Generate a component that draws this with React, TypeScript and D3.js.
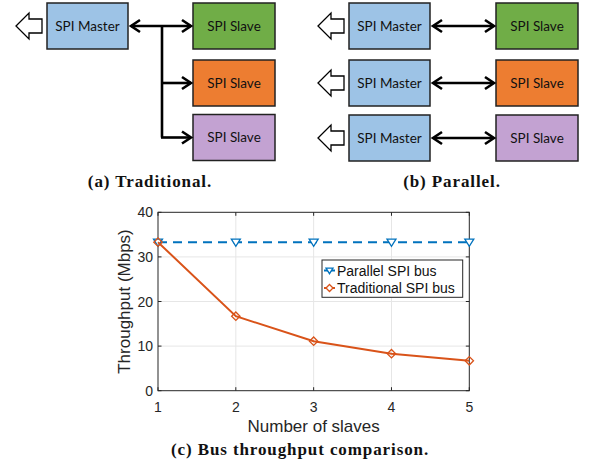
import React from "react";
import * as d3 from "d3";

const slaves = [1, 2, 3, 4, 5];
const parallelSeries = [33.3, 33.3, 33.3, 33.3, 33.3];
const traditionalSeries = [33.3, 16.7, 11.1, 8.3, 6.7];
const xTicks = [1, 2, 3, 4, 5];
const yTicks = [0, 10, 20, 30, 40];
const legendLabels = ["Parallel SPI bus", "Traditional SPI bus"];
const slaveColors = ["#70AD47", "#ED7D31", "#C3A2D2"];
const masterColor = "#9DC3E6";

const W = 590, H = 470;
const plot = { left: 158, right: 469.3, top: 212.3, bottom: 390.7 };
const BLUE = "#0072BD";
const ORANGE = "#D95319";
const AX = "#262626";

function BigArrow({ x, y }: { x: number; y: number }) {
  const pts = [
    [x, y],
    [x + 13, y - 13],
    [x + 13, y - 7],
    [x + 26, y - 7],
    [x + 26, y + 7],
    [x + 13, y + 7],
    [x + 13, y + 13],
  ];
  return <polygon points={pts.map((p) => p.join(",")).join(" ")} fill="#fff" stroke="#000" strokeWidth={1.3} />;
}

function Head({ x, y, dir }: { x: number; y: number; dir: 1 | -1 }) {
  const d = `M${x - dir * 9},${y - 6} L${x},${y} L${x - dir * 9},${y + 6}`;
  return <path d={d} fill="none" stroke="#000" strokeWidth={2.6} strokeLinejoin="miter" />;
}

function Box({ x, y, w, h, fill, label }: { x: number; y: number; w: number; h: number; fill: string; label: string }) {
  return (
    <g>
      <rect x={x} y={y} width={w} height={h} fill={fill} stroke="#222" strokeWidth={1.5} />
      <text x={x + w / 2} y={y + h / 2 + 4.5} textAnchor="middle" fontFamily="Lato, 'Open Sans', sans-serif" fontSize={13.5} fill="#111">
        {label}
      </text>
    </g>
  );
}

function tri(x: number, y: number, s = 4.5) {
  return `M${x - s},${y - s * 0.7} L${x + s},${y - s * 0.7} L${x},${y + s * 0.9} Z`;
}
function diamond(x: number, y: number, s = 4.2) {
  return `M${x},${y - s} L${x + s},${y} L${x},${y + s} L${x - s},${y} Z`;
}

export default function App() {
  const xs = d3.scaleLinear().domain([1, 5]).range([plot.left, plot.right]);
  const ys = d3.scaleLinear().domain([0, 40]).range([plot.bottom, plot.top]);
  const line = d3
    .line<number>()
    .x((_, i) => xs(slaves[i]))
    .y((d) => ys(d));

  const serifCap = {
    fontFamily: "'Liberation Serif', 'Times New Roman', serif",
    fontWeight: 700,
    fontSize: 17,
    letterSpacing: 0.9,
    fill: "#111",
  } as const;
  const sans = "'Liberation Sans', Arial, Helvetica, sans-serif";

  const aRows = [26, 83, 137.5];
  const bRows = [26, 83, 138];

  return (
    <svg width={W} height={H} style={{ position: "absolute", left: 0, top: 0, background: "#fff" }}>
      <rect width={W} height={H} fill="#fff" />
      {/* (a) Traditional */}
      <g>
        <BigArrow x={16} y={26} />
        <Box x={47} y={3} w={81} h={46} fill={masterColor} label="SPI Master" />
        {aRows.map((ry, i) => (
          <Box key={i} x={193} y={ry - 23} w={82} h={46} fill={slaveColors[i]} label="SPI Slave" />
        ))}
        <line x1={131} y1={26} x2={191} y2={26} stroke="#000" strokeWidth={2.6} />
        <Head x={131} y={26} dir={-1} />
        <line x1={162} y1={26} x2={162} y2={aRows[2]} stroke="#000" strokeWidth={2.6} />
        {aRows.map((ry, i) => (
          <g key={i}>
            {i > 0 && <line x1={161} y1={ry} x2={191} y2={ry} stroke="#000" strokeWidth={2.6} />}
            <Head x={191} y={ry} dir={1} />
          </g>
        ))}
        <text x={150} y={187} textAnchor="middle" {...serifCap}>
          (a) Traditional.
        </text>
      </g>
      {/* (b) Parallel */}
      <g>
        {bRows.map((ry, i) => (
          <g key={i}>
            <BigArrow x={318} y={ry} />
            <Box x={349} y={ry - 23} w={81} h={46} fill={masterColor} label="SPI Master" />
            <Box x={496} y={ry - 23} w={82} h={46} fill={slaveColors[i]} label="SPI Slave" />
            <line x1={434} y1={ry} x2={493} y2={ry} stroke="#000" strokeWidth={2.6} />
            <Head x={433} y={ry} dir={-1} />
            <Head x={494} y={ry} dir={1} />
          </g>
        ))}
        <text x={452} y={187} textAnchor="middle" {...serifCap}>
          (b) Parallel.
        </text>
      </g>
      {/* (c) chart */}
      <g>
        <rect x={plot.left} y={plot.top} width={plot.right - plot.left} height={plot.bottom - plot.top} fill="#fff" />
        {xTicks.slice(1, -1).map((t) => (
          <line key={"gx" + t} x1={xs(t)} x2={xs(t)} y1={plot.top} y2={plot.bottom} stroke="#E6E6E6" strokeWidth={1} />
        ))}
        {yTicks.slice(1, -1).map((t) => (
          <line key={"gy" + t} x1={plot.left} x2={plot.right} y1={ys(t)} y2={ys(t)} stroke="#E6E6E6" strokeWidth={1} />
        ))}
        {xTicks.map((t) => (
          <g key={"tx" + t}>
            <line x1={xs(t)} x2={xs(t)} y1={plot.bottom} y2={plot.bottom - 3.5} stroke={AX} />
            <line x1={xs(t)} x2={xs(t)} y1={plot.top} y2={plot.top + 3.5} stroke={AX} />
            <text x={xs(t)} y={412} textAnchor="middle" fontFamily={sans} fontSize={14} fill={AX}>
              {t}
            </text>
          </g>
        ))}
        {yTicks.map((t) => (
          <g key={"ty" + t}>
            <line x1={plot.left} x2={plot.left + 3.5} y1={ys(t)} y2={ys(t)} stroke={AX} />
            <line x1={plot.right} x2={plot.right - 3.5} y1={ys(t)} y2={ys(t)} stroke={AX} />
            <text x={153} y={ys(t) + 5} textAnchor="end" fontFamily={sans} fontSize={14} fill={AX}>
              {t}
            </text>
          </g>
        ))}
        <rect x={plot.left} y={plot.top} width={plot.right - plot.left} height={plot.bottom - plot.top} fill="none" stroke={AX} strokeWidth={1} />
        <path d={line(parallelSeries) || ""} fill="none" stroke={BLUE} strokeWidth={2} strokeDasharray="9,6" />
        {parallelSeries.map((v, i) => (
          <path key={"pm" + i} d={tri(xs(slaves[i]), ys(v))} fill="#fff" stroke={BLUE} strokeWidth={1.3} />
        ))}
        <path d={line(traditionalSeries) || ""} fill="none" stroke={ORANGE} strokeWidth={2} />
        {traditionalSeries.map((v, i) => (
          <path key={"tm" + i} d={diamond(xs(slaves[i]), ys(v))} fill="none" stroke={ORANGE} strokeWidth={1.3} />
        ))}
        <rect x={322} y={260} width={140.7} height={37.3} fill="#fff" stroke={AX} strokeWidth={1} />
        <line x1={324} x2={335} y1={270.5} y2={270.5} stroke={BLUE} strokeWidth={2} />
        <path d={tri(329.5, 270.5, 3.5)} fill="#fff" stroke={BLUE} strokeWidth={1.3} />
        <text x={337} y={275.5} fontFamily={sans} fontSize={14} fill="#111">
          {legendLabels[0]}
        </text>
        <line x1={324} x2={335} y1={288} y2={288} stroke={ORANGE} strokeWidth={2} />
        <path d={diamond(329.5, 288, 3.5)} fill="#fff" stroke={ORANGE} strokeWidth={1.3} />
        <text x={337} y={293} fontFamily={sans} fontSize={14} fill="#111">
          {legendLabels[1]}
        </text>
        <text x={(plot.left + plot.right) / 2} y={431.5} textAnchor="middle" fontFamily={sans} fontSize={17} fill={AX}>
          Number of slaves
        </text>
        <text transform={`translate(130,${(plot.top + plot.bottom) / 2}) rotate(-90)`} textAnchor="middle" fontFamily={sans} fontSize={17} fill={AX}>
          Throughput (Mbps)
        </text>
        <text x={300} y={455} textAnchor="middle" {...serifCap}>
          (c) Bus throughput comparison.
        </text>
      </g>
    </svg>
  );
}
